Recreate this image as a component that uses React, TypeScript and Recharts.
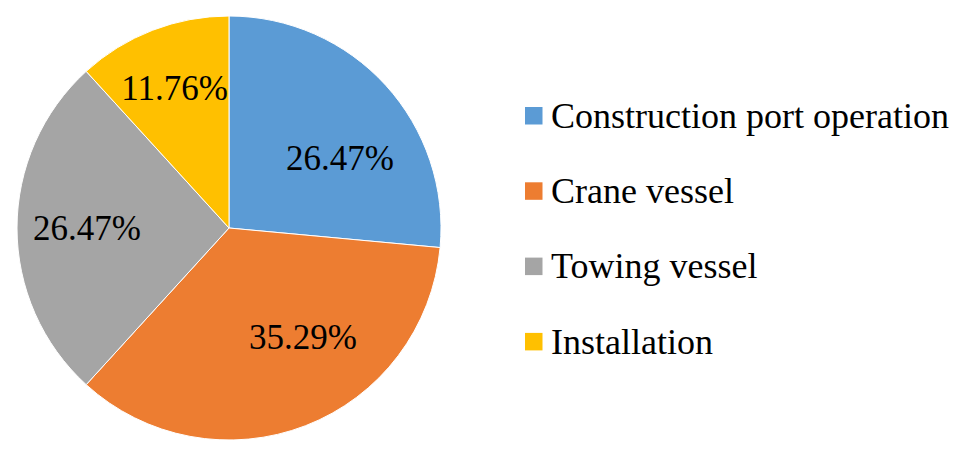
import React from 'react';
import { PieChart, Pie, Cell, Legend } from 'recharts';

const categories = ['Construction port operation', 'Crane vessel', 'Towing vessel', 'Installation'];
const values = [9, 12, 9, 4];
const colors = ['#5B9BD5', '#ED7D31', '#A5A5A5', '#FFC000'];
// label placement tweaks (polar, relative to slice mid-angle), styling only
const labelAngleShift = [-10, 13, 0, 0];
const labelRadiusFrac = [0.62, 0.62, 0.67, 0.71];

const data = categories.map((name, i) => ({ name, value: values[i] }));
const FONT = "'Liberation Serif', 'Times New Roman', Times, serif";
const RAD = Math.PI / 180;

const renderLabel = (props: any) => {
  const { cx, cy, midAngle, outerRadius, percent, index } = props;
  const a = (midAngle + labelAngleShift[index]) * RAD;
  const r = outerRadius * labelRadiusFrac[index];
  const x = cx + r * Math.cos(a);
  const y = cy - r * Math.sin(a);
  return (
    <text x={x} y={y + 12} textAnchor="middle" style={{ fontFamily: FONT, fontSize: 35 }} fill="#000">
      {(percent * 100).toFixed(2)}%
    </text>
  );
};

const renderLegend = () => (
  <svg width={430} height={320} style={{ display: 'block' }}>
    {categories.map((c, i) => {
      const cyRow = 37.5 + i * 75.3;
      return (
        <g key={c}>
          <rect x={0} y={cyRow - 8.5} width={17.5} height={17.5} fill={colors[i]} />
          <text x={26} y={cyRow + 12.3} style={{ fontFamily: FONT, fontSize: 36 }} fill="#000">{c}</text>
        </g>
      );
    })}
  </svg>
);

export default function App() {
  return (
    <div style={{ position: 'absolute', left: 0, top: 0, width: 953, height: 459, background: '#fff' }}>
      <PieChart width={953} height={459} margin={{ top: 0, right: 0, bottom: 0, left: 0 }}>
        <Pie
          data={data}
          dataKey="value"
          nameKey="name"
          cx={229}
          cy={228}
          outerRadius={212}
          startAngle={90}
          endAngle={-270}
          stroke="#fff"
          strokeWidth={1}
          label={renderLabel}
          labelLine={false}
          isAnimationActive={false}
        >
          {data.map((d, i) => (
            <Cell key={d.name} fill={colors[i]} />
          ))}
        </Pie>
        <Legend
          content={renderLegend}
          wrapperStyle={{ position: 'absolute', left: 525, top: 77.5, width: 430, height: 320 }}
        />
      </PieChart>
    </div>
  );
}
